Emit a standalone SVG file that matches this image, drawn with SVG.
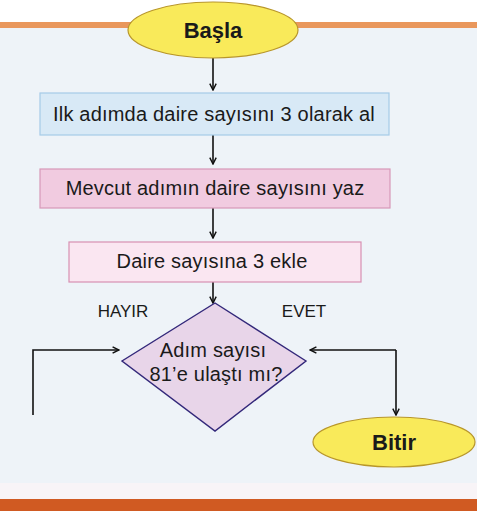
<svg xmlns="http://www.w3.org/2000/svg" width="477" height="518" viewBox="0 0 477 518">
<style>
  .t{font-family:"Liberation Sans",Arial,sans-serif;fill:#1a1a1a;text-anchor:middle}
  .b{font-weight:bold;font-size:22px}
  .n{font-size:20px;letter-spacing:0.2px}
  .l{font-size:17px}
  .c{stroke:#111;stroke-width:1.6;fill:none}
</style>
<defs>
  <marker id="ah" viewBox="0 0 10 10" refX="9" refY="5" markerWidth="8" markerHeight="8" markerUnits="userSpaceOnUse" orient="auto">
    <path d="M1,1 L9,5 L1,9" fill="none" stroke="#111" stroke-width="1.8"/>
  </marker>
</defs>
<rect x="0" y="0" width="477" height="518" fill="#ffffff"/>
<rect x="0" y="28" width="477" height="455" fill="#eef3f8"/>
<rect x="0" y="22" width="477" height="6" fill="#e9975c"/>
<rect x="0" y="483" width="477" height="16" fill="#f8f4f7"/>
<rect x="0" y="499" width="477" height="12" fill="#d05a22"/>

<g id="connectors">
  <line class="c" x1="213" y1="58" x2="213" y2="90" marker-end="url(#ah)"/>
  <line class="c" x1="213" y1="135" x2="213" y2="164" marker-end="url(#ah)"/>
  <line class="c" x1="213" y1="208" x2="213" y2="238" marker-end="url(#ah)"/>
  <line class="c" x1="213" y1="282" x2="213" y2="303" marker-end="url(#ah)"/>
  <polyline class="c" points="33,415 33,350 119,350" marker-end="url(#ah)"/>
  <line class="c" x1="396" y1="350" x2="310" y2="350" marker-end="url(#ah)"/>
  <line class="c" x1="396" y1="350" x2="396" y2="415" marker-end="url(#ah)"/>
</g>

<g id="start">
  <ellipse cx="213" cy="30" rx="85" ry="28" fill="#f9ea5a" stroke="#b8962a" stroke-width="1.2"/>
  <text class="t b" x="213" y="38">Başla</text>
</g>
<g id="step1">
  <rect x="40" y="93" width="349" height="42" fill="#d8e9f6" stroke="#a6cbe8" stroke-width="1.2"/>
  <text class="t n" x="214" y="121">Ilk adımda daire sayısını 3 olarak al</text>
</g>
<g id="step2">
  <rect x="40" y="169" width="350" height="39" fill="#f1cbe0" stroke="#d898b8" stroke-width="1.2"/>
  <text class="t n" x="215" y="195">Mevcut adımın daire sayısını yaz</text>
</g>
<g id="step3">
  <rect x="69" y="242" width="292" height="40" fill="#fae6f1" stroke="#d890b2" stroke-width="1.2"/>
  <text class="t n" x="212" y="268">Daire sayısına 3 ekle</text>
</g>
<g id="decision">
  <polygon points="215,303 306,361 215,431 122,361" fill="#e8d5e9" stroke="#33287a" stroke-width="1.4"/>
  <text class="t n" x="213" y="357">Adım sayısı</text>
  <text class="t n" x="216" y="381">81’e ulaştı mı?</text>
</g>
<g id="labels">
  <text class="t l" x="123" y="317">HAYIR</text>
  <text class="t l" x="304" y="317">EVET</text>
</g>
<g id="end">
  <ellipse cx="394" cy="442" rx="81" ry="25" fill="#f9ea5a" stroke="#b8962a" stroke-width="1.2"/>
  <text class="t b" x="394" y="450">Bitir</text>
</g>
</svg>
